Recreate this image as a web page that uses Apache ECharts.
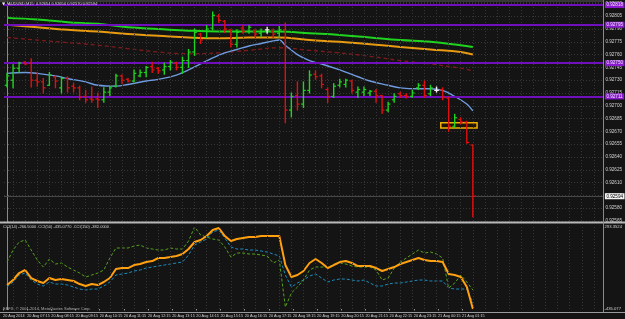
<!DOCTYPE html>
<html><head><meta charset="utf-8">
<script src="https://cdn.jsdelivr.net/npm/echarts@6/dist/echarts.min.js"></script>
<style>html,body{margin:0;padding:0;background:#141414;}#c{width:625px;height:319px;}</style>
</head><body><div id="c"></div>
<script>
// ---------------- data ----------------
const symbolName = 'AUDUSD,M15';
const copyrightText = 'EBFX, \u00a9 2001-2014, MetaQuotes Software Corp.';
const timeLabels = ['20 Aug 2014','20 Aug 07:15','20 Aug 08:15','20 Aug 09:15','20 Aug 10:15','20 Aug 11:15',
  '20 Aug 12:15','20 Aug 13:15','20 Aug 14:15','20 Aug 15:15','20 Aug 16:15','20 Aug 17:15','20 Aug 18:15',
  '20 Aug 19:15','20 Aug 20:15','20 Aug 21:15','20 Aug 22:15','20 Aug 23:15','21 Aug 00:15','21 Aug 01:15'];
const barsPerLabel = 4;
const totalSlots = 99;

const opens = [0.92724,0.92730,0.92744,0.92751,0.92750,0.92730,0.92728,0.92724,0.92734,0.92721,
  0.92732,0.92723,0.92721,0.92711,0.92708,0.92708,0.92707,0.92716,0.92723,0.92735,
  0.92731,0.92729,0.92735,0.92739,0.92746,0.92744,0.92742,0.92746,0.92750,0.92745,
  0.92753,0.92763,0.92784,0.92780,0.92791,0.92805,0.92799,0.92789,0.92772,0.92791,
  0.92787,0.92787,0.92785,0.92789,0.92787,0.92785,0.92789,0.92695,0.92712,0.92702,
  0.92718,0.92737,0.92735,0.92719,0.92711,0.92724,0.92725,0.92729,0.92716,0.92716,
  0.92715,0.92717,0.92712,0.92695,0.92707,0.92714,0.92712,0.92711,0.92721,0.92724,
  0.92714,0.92718,0.92719,0.92709,0.92676,0.92684,0.92681,0.92654];
const highs = [0.92738,0.92748,0.92751,0.92752,0.92755,0.92739,0.92732,0.92739,0.92735,0.92734,
  0.92734,0.92726,0.92723,0.92718,0.92722,0.92715,0.92721,0.92723,0.92737,0.92736,
  0.92732,0.92742,0.92742,0.92746,0.92751,0.92745,0.92750,0.92753,0.92751,0.92757,
  0.92766,0.92790,0.92785,0.92794,0.92810,0.92807,0.92800,0.92789,0.92789,0.92794,
  0.92794,0.92789,0.92790,0.92792,0.92790,0.92793,0.92797,0.92715,0.92728,0.92728,
  0.92741,0.92741,0.92737,0.92721,0.92726,0.92731,0.92731,0.92730,0.92722,0.92722,
  0.92718,0.92719,0.92712,0.92704,0.92714,0.92716,0.92714,0.92718,0.92726,0.92729,
  0.92724,0.92722,0.92721,0.92710,0.92690,0.92686,0.92682,0.92654];
const lows = [0.92722,0.92721,0.92739,0.92748,0.92722,0.92723,0.92715,0.92724,0.92721,0.92715,
  0.92716,0.92716,0.92707,0.92704,0.92704,0.92698,0.92704,0.92712,0.92722,0.92726,
  0.92728,0.92728,0.92734,0.92734,0.92739,0.92738,0.92737,0.92742,0.92742,0.92738,
  0.92745,0.92759,0.92773,0.92780,0.92789,0.92798,0.92786,0.92769,0.92769,0.92785,
  0.92785,0.92781,0.92781,0.92785,0.92780,0.92780,0.92680,0.92687,0.92695,0.92698,
  0.92715,0.92731,0.92721,0.92704,0.92710,0.92722,0.92722,0.92715,0.92710,0.92712,
  0.92712,0.92704,0.92691,0.92693,0.92704,0.92710,0.92709,0.92710,0.92719,0.92710,
  0.92712,0.92716,0.92707,0.92670,0.92675,0.92679,0.92656,0.92570];
const closes = [0.92735,0.92744,0.92750,0.92749,0.92730,0.92728,0.92721,0.92736,0.92729,0.92732,
  0.92721,0.92721,0.92710,0.92707,0.92707,0.92707,0.92716,0.92721,0.92735,0.92730,
  0.92729,0.92738,0.92739,0.92745,0.92742,0.92741,0.92746,0.92751,0.92745,0.92753,
  0.92763,0.92786,0.92777,0.92790,0.92806,0.92800,0.92790,0.92772,0.92786,0.92787,
  0.92792,0.92784,0.92787,0.92789,0.92784,0.92789,0.92695,0.92711,0.92702,0.92718,
  0.92736,0.92734,0.92725,0.92711,0.92723,0.92728,0.92730,0.92718,0.92719,0.92719,
  0.92717,0.92712,0.92695,0.92702,0.92711,0.92712,0.92711,0.92715,0.92724,0.92712,
  0.92721,0.92718,0.92710,0.92676,0.92686,0.92681,0.92657,0.92594];

// moving averages: [bar index, price]
const maGreen = [[0,0.92803],[5,0.92801],[10,0.92798],[15,0.92796],[20,0.92792],[25,0.92790],[30,0.92788],
  [35,0.92787],[40,0.92787],[45,0.92787],[50,0.92785],[55,0.92783],[60,0.92780],[65,0.92777],[70,0.92775],[75,0.92771],[77,0.92769]];
const maOrange = [[0,0.92795],[5,0.92792],[10,0.92789],[15,0.92787],[20,0.92784],[25,0.92782],[30,0.92780],
  [35,0.92779],[40,0.92780],[45,0.92780],[50,0.92777],[55,0.92775],[60,0.92772],[65,0.92769],[70,0.92766],[75,0.92763],[77,0.92760]];
const maDarkRed = [[0,0.92780],[5,0.92777],[10,0.92774],[15,0.92771],[20,0.92767],[25,0.92763],[30,0.92761],
  [35,0.92762],[40,0.92765],[45,0.92768],[50,0.92765],[55,0.92762],[60,0.92758],[65,0.92753],[70,0.92749],[75,0.92744],[77,0.92741]];
const maBlue = [[0,0.92738],[3,0.92739],[5,0.92738],[8,0.92735],[10,0.92732],[13,0.92728],[15,0.92724],[18,0.92723],
  [20,0.92725],[23,0.92729],[25,0.92731],[28,0.92736],[30,0.92742],[32,0.92749],[34,0.92756],[36,0.92762],[38,0.92766],
  [40,0.92770],[42,0.92773],[44,0.92776],[45,0.92777],[46,0.92771],[48,0.92760],[50,0.92753],[52,0.92749],[55,0.92742],
  [58,0.92734],[60,0.92729],[63,0.92724],[65,0.92721],[68,0.92720],[70,0.92720],[72,0.92718],[74,0.92711],[76,0.92702],[77,0.92694]];

const hLevels = [0.92818, 0.92795, 0.92750, 0.92711];
const box = {fromBar: 71.7, toBar: 77.7, top: 0.92680, bottom: 0.92674};

const priceMin = 0.92565, priceMax = 0.928216, priceStep = 0.00015;

// CCI indicator
const cciNames = ['CCI(14)', 'CCI(50)', 'CCI(150)'];
const cciGreen = [-17.8,88.8,159.9,177.7,88.8,0,-62.2,8.9,-35.5,-26.6,
  -62.2,-88.8,-115.5,-151.0,-133.2,-115.5,-88.8,17.8,106.6,106.6,
  106.6,124.4,133.2,106.6,97.7,88.8,88.8,106.6,97.7,97.7,
  168.8,293.3524,222.1,204.3,186.5,177.7,115.5,26.6,62.2,62.2,
  53.3,53.3,44.4,35.5,-26.6,0,-417.5,-293.1,-239.8,-177.7,
  -88.8,-62.2,-62.2,-62.2,-44.4,-26.6,-35.5,-53.3,-62.2,-62.2,
  -62.2,-88.8,-177.7,-159.9,-71.1,-17.8,17.8,53.3,88.8,62.2,
  71.1,53.3,17.8,-248.7,-204.3,-133.2,-195.4,-266.5];
const cciOrange = [-222.1,-177.7,-115.5,-88.8,-159.9,-186.5,-204.3,-159.9,-177.7,-168.8,
  -177.7,-186.5,-213.2,-231.0,-213.2,-222.1,-195.4,-159.9,-79.9,-71.1,
  -71.1,-44.4,-35.5,-17.8,-8.9,17.8,17.8,26.6,35.5,53.3,
  97.7,159.9,177.7,213.2,266.5,284.3,213.2,168.8,186.5,195.4,
  204.3,204.3,213.2,213.2,213.2,213.2,-44.4,-151.0,-133.2,-97.7,
  -26.6,8.9,-26.6,-71.1,-44.4,-17.8,-8.9,-26.6,-53.3,-53.3,
  -53.3,-71.1,-97.7,-79.9,-62.2,-35.5,-17.8,0,17.8,0,
  -8.9,-8.9,-17.8,-124.4,-133.2,-151.0,-239.8,-435.077];
const cciBlue = [-239.8,-195.4,-133.2,-115.5,-177.7,-213.2,-231.0,-195.4,-213.2,-213.2,
  -222.1,-239.8,-257.6,-266.5,-257.6,-257.6,-231.0,-195.4,-133.2,-124.4,
  -115.5,-97.7,-88.8,-71.1,-62.2,-53.3,-44.4,-35.5,-26.6,-17.8,
  44.4,133.2,159.9,186.5,248.7,266.5,195.4,115.5,97.7,97.7,
  88.8,88.8,79.9,71.1,53.3,35.5,-133.2,-239.8,-204.3,-177.7,
  -142.1,-124.4,-159.9,-195.4,-177.7,-168.8,-168.8,-177.7,-186.5,-177.7,
  -204.3,-231.0,-231.0,-213.2,-204.3,-204.3,-195.4,-186.5,-177.7,-177.7,
  -186.5,-186.5,-186.5,-248.7,-257.6,-257.6,-257.6,-382.0];
const cciMax = 293.3524, cciMin = -435.077;
const cciAxisText = {max: '293.3524', zero: '0.00', min: '-435.077'};

// ---------------- chart ----------------
const UP = '#1ed41e', DOWN = '#e01010', DOJI = '#f0f0f0';
const TXT = '#d2d2d2';
const FONT = "'Liberation Sans',Arial,sans-serif";
const FS = 4.6;

const ohlc = opens.map((o, i) => [i, o, highs[i], lows[i], closes[i]]);
const cats = [];
for (let i = 0; i < totalSlots; i++) {
  const k = i / barsPerLabel;
  cats.push(Number.isInteger(k) && k < timeLabels.length ? timeLabels[k] : '');
}
const vGrid = [];
for (let i = 1; i < totalSlots; i += 2) vGrid.push({xAxis: i});
const toPairs = arr => arr.map((v, i) => [i, v]);
const last = opens.length - 1;

function renderBar(params, api) {
  const i = api.value(0);
  const o = api.value(1), h = api.value(2), l = api.value(3), c = api.value(4);
  const ph = api.coord([i, h]), pl = api.coord([i, l]), po = api.coord([i, o]), pc = api.coord([i, c]);
  const w = api.size([1, 0])[0];
  const t = w * 0.38;
  const col = c > o ? UP : (c < o ? DOWN : DOJI);
  const x = ph[0];
  return {type: 'group', children: [
    {type: 'line', shape: {x1: x, y1: ph[1] - 0.5, x2: x, y2: pl[1] + 0.5}, style: {stroke: col, lineWidth: 1.4}},
    {type: 'line', shape: {x1: x - t, y1: po[1], x2: x, y2: po[1]}, style: {stroke: col, lineWidth: 1.2}},
    {type: 'line', shape: {x1: x, y1: pc[1], x2: x + t, y2: pc[1]}, style: {stroke: col, lineWidth: 1.2}}
  ]};
}

const dotted = {color: '#363636', width: 1, type: [1, 2]};
const header = symbolName + '  ' + [opens[last], highs[last], lows[last], closes[last]].map(v => v.toFixed(5)).join(' ');
const legend = [cciNames[0] + ' ' + cciGreen[last].toFixed(4), cciNames[1] + ' ' + cciOrange[last].toFixed(4),
  cciNames[2] + ' ' + cciBlue[last].toFixed(4)].join('  ');
const fmtPrice = p => Number(p.value).toFixed(5);

const mainMarks = vGrid.map(d => ({xAxis: d.xAxis, lineStyle: dotted, label: {show: false}}))
  .concat(hLevels.map(v => ({yAxis: v, lineStyle: {color: '#7010bc', width: 2, type: 'solid'},
    label: {show: true, position: 'end', distance: 2, formatter: fmtPrice, backgroundColor: '#8a1ad0',
      color: '#ece4f4', fontSize: FS, fontFamily: FONT, padding: [0.5, 1.5]}})));

const option = {
  animation: false,
  backgroundColor: '#141414',
  grid: [
    {left: 4, right: 22, top: 2, height: 219},
    {left: 4, right: 22, top: 227, height: 82},
    {left: -1, right: 27, top: 227, height: 82}
  ],
  xAxis: [
    {type: 'value', gridIndex: 0, min: -0.5, max: totalSlots - 0.5, show: false},
    {type: 'value', gridIndex: 1, min: -0.5, max: totalSlots - 0.5, show: false},
    {type: 'category', gridIndex: 2, data: cats, boundaryGap: true, position: 'bottom', offset: 3,
      axisLine: {show: false},
      axisTick: {show: true, alignWithLabel: true, length: 1.5, interval: (idx, v) => v !== '', lineStyle: {color: '#909090'}},
      axisLabel: {show: true, interval: 0, align: 'left', margin: 1.5, fontSize: 3.8, color: TXT, fontFamily: FONT},
      splitLine: {show: false}}
  ],
  yAxis: [
    {type: 'value', gridIndex: 0, position: 'right', min: priceMin, max: priceMax, interval: priceStep,
      axisLine: {show: true, lineStyle: {color: '#8a8a8a'}},
      axisTick: {show: true, length: 1.5, lineStyle: {color: '#8a8a8a'}},
      axisLabel: {show: true, showMaxLabel: false, margin: 2.5, fontSize: FS, color: TXT, fontFamily: FONT,
        formatter: v => v.toFixed(5)},
      splitLine: {show: true, lineStyle: dotted}},
    {type: 'value', gridIndex: 1, position: 'right', min: cciMin, max: cciMax, interval: 1000,
      axisLine: {show: true, lineStyle: {color: '#8a8a8a'}},
      axisTick: {show: true, length: 1.5, lineStyle: {color: '#8a8a8a'}},
      axisLabel: {show: true, margin: 1.5, fontSize: 4.2, color: TXT, fontFamily: FONT,
        formatter: v => Math.abs(v) < 1e-6 ? cciAxisText.zero : (v > 0 ? cciAxisText.max : cciAxisText.min)},
      splitLine: {show: false}},
    {type: 'value', gridIndex: 2, show: false, min: 0, max: 1}
  ],
  series: [
    {type: 'line', xAxisIndex: 0, yAxisIndex: 0, data: maDarkRed, symbol: 'none', smooth: 0.4,
      lineStyle: {color: '#7e1a1a', width: 1.3, type: [4, 3]}, z: 2,
      markLine: {silent: true, symbol: ['none', 'none'], precision: 5, data: mainMarks}},
    {type: 'line', xAxisIndex: 0, yAxisIndex: 0, data: maOrange, symbol: 'none', smooth: 0.4,
      lineStyle: {color: '#e89a10', width: 2}, z: 3},
    {type: 'line', xAxisIndex: 0, yAxisIndex: 0, data: maGreen, symbol: 'none', smooth: 0.4,
      lineStyle: {color: '#1ed41e', width: 2}, z: 3,
      markLine: {silent: true, symbol: ['none', 'none'], precision: 5,
        lineStyle: {color: '#474747', width: 1, type: 'solid'},
        label: {show: true, position: 'end', distance: 2, formatter: fmtPrice, backgroundColor: '#f4f4f4',
          color: '#000', fontSize: FS, fontFamily: FONT, padding: [0.5, 1.5]},
        data: [{yAxis: closes[last]}]}},
    {type: 'line', xAxisIndex: 0, yAxisIndex: 0, data: maBlue, symbol: 'none', smooth: 0.4,
      lineStyle: {color: '#6f9be0', width: 1.4}, z: 4},
    {type: 'custom', xAxisIndex: 0, yAxisIndex: 0, data: ohlc, renderItem: renderBar, clip: true, z: 5,
      encode: {x: 0, y: [1, 2, 3, 4]},
      markArea: {silent: true, precision: 5, data: [[{xAxis: box.fromBar, yAxis: box.top}, {xAxis: box.toBar, yAxis: box.bottom}]],
        itemStyle: {color: 'rgba(40,20,0,0.5)', borderColor: '#f0b000', borderWidth: 1.5}}},
    {type: 'line', xAxisIndex: 1, yAxisIndex: 1, data: toPairs(cciBlue), symbol: 'none',
      lineStyle: {color: '#1d8cbc', width: 1, type: [3, 2]}, z: 2,
      markLine: {silent: true, symbol: ['none', 'none'], label: {show: false}, lineStyle: dotted, data: vGrid}},
    {type: 'line', xAxisIndex: 1, yAxisIndex: 1, data: toPairs(cciGreen), symbol: 'none',
      lineStyle: {color: '#56a21c', width: 1, type: [3, 2]}, z: 3},
    {type: 'line', xAxisIndex: 1, yAxisIndex: 1, data: toPairs(cciOrange), symbol: 'none',
      lineStyle: {color: '#ffa010', width: 2}, z: 4},
    {type: 'line', xAxisIndex: 2, yAxisIndex: 2, data: [], symbol: 'none'}
  ],
  graphic: [
    {type: 'line', shape: {x1: 0, y1: 1, x2: 603, y2: 1}, style: {stroke: '#5a5a5a', lineWidth: 1}, z: 50},
    {type: 'rect', shape: {x: 0, y: 221.5, width: 625, height: 2}, style: {fill: '#b8b8b8'}, z: 50},
    {type: 'line', shape: {x1: 0, y1: 312.5, x2: 625, y2: 312.5}, style: {stroke: '#9a9a9a', lineWidth: 1}, z: 50},
    {type: 'line', shape: {x1: 603.5, y1: 0, x2: 603.5, y2: 312}, style: {stroke: '#8a8a8a', lineWidth: 1}, z: 50},
    {type: 'text', left: 2, top: 1.5, style: {text: '\u25bc', fill: '#e8e8e8', fontSize: 4, fontFamily: 'DejaVu Sans'}, z: 60},
    {type: 'text', left: 8, top: 2, style: {text: header, fill: TXT, fontSize: 4, fontFamily: FONT}, z: 60},
    {type: 'text', left: 3, top: 225, style: {text: legend, fill: TXT, fontSize: 4, fontFamily: FONT}, z: 60},
    {type: 'text', left: 3, top: 307, style: {text: copyrightText, fill: '#b0b0b0', fontSize: 4, fontFamily: FONT}, z: 60}
  ]
};
const chart = echarts.init(document.getElementById('c'));
chart.setOption(option);
</script></body></html>
